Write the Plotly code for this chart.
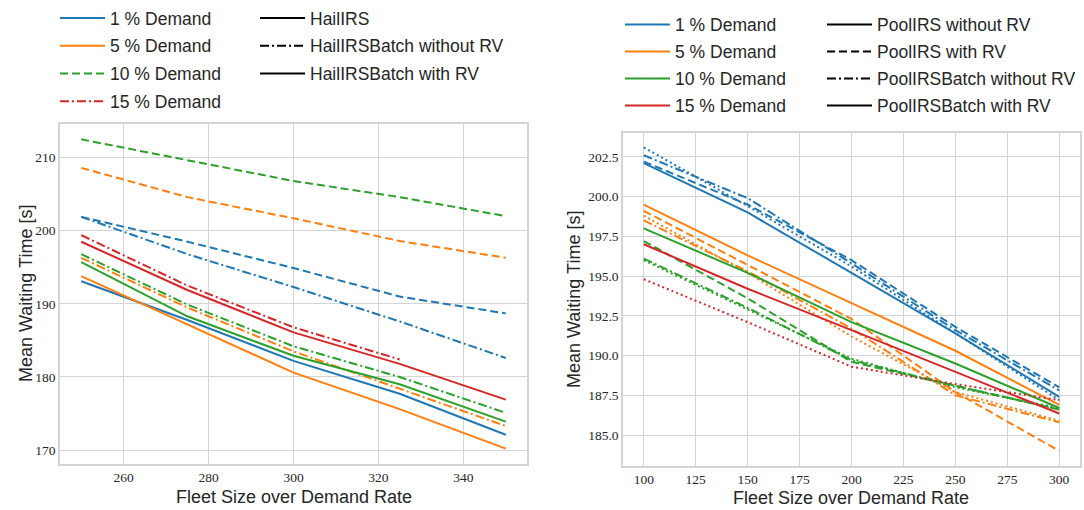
import plotly.graph_objects as go

# ---------------- data ----------------
hail_x = [250, 275, 300, 325, 350]
hail_1_dashed = [201.9, 198.5, 194.9, 191.0, 188.7]
hail_1_dashdot = [201.9, 196.8, 192.3, 187.6, 182.6]
hail_1_solid = [193.1, 187.8, 182.2, 177.7, 172.1]
hail_5_dashed = [208.6, 204.6, 201.7, 198.6, 196.3]
hail_5_dashdot = [196.3, 189.5, 183.5, 178.4, 173.3]
hail_5_solid = [193.8, 187.2, 180.6, 175.6, 170.2]
hail_10_dashed = [212.5, 209.6, 206.8, 204.6, 202.0]
hail_10_dashdot = [196.8, 189.9, 184.2, 180.0, 175.1]
hail_10_solid = [195.7, 188.3, 182.9, 179.0, 173.9]
hail_15_dashdot = [199.4, 192.5, 186.8, 182.4, None]
hail_15_solid = [198.5, 191.9, 186.1, 181.8, 176.9]

pool_x = [100, 150, 200, 250, 300]
pool_1_solid = [202.1, 199.0, 195.2, 191.4, 187.4]
pool_1_dashed = [202.2, 199.5, 196.0, 191.8, 188.0]
pool_1_dashdot = [202.6, 199.9, 195.8, 191.6, 187.8]
pool_1_dotted = [203.1, 199.4, 195.6, 191.4, 187.2]
pool_5_solid = [199.5, 196.3, 193.3, 190.3, 186.9]
pool_5_dashed = [199.1, 195.7, 192.3, 187.7, 184.0]
pool_5_dashdot = [198.5, 195.3, 191.7, 187.5, 185.8]
pool_5_dotted = [198.8, 195.2, 191.2, 187.7, 185.9]
pool_10_solid = [198.0, 195.2, 192.1, 189.5, 186.7]
pool_10_dashed = [197.2, 193.6, 189.6, 188.1, 186.6]
pool_10_dashdot = [196.1, 193.0, 189.7, 188.1, 186.6]
pool_10_dotted = [196.0, 192.9, 189.8, 188.0, 186.7]
pool_15_solid = [197.0, 194.2, 191.6, 189.0, 186.35]
pool_15_dotted = [194.8, 192.1, 189.3, 188.2, 187.2]

demand_labels = ["1 % Demand", "5 % Demand", "10 % Demand", "15 % Demand"]
hail_style_labels = ["HailIRS", "HailIRSBatch without RV", "HailIRSBatch with RV"]
pool_style_labels = ["PoolIRS without RV", "PoolIRS with RV",
                     "PoolIRSBatch without RV", "PoolIRSBatch with RV"]

# ---------------- styling ----------------
BLUE, ORANGE, GREEN, RED = "#1f77b4", "#ff7f0e", "#2ca02c", "#d62728"
DASH = {"solid": "solid", "dashed": "8px,4px",
        "dashdot": "9px,3px,2px,3px", "dotted": "2px,3px"}
LW = 2
GRID = "#d4d4d4"
TXT = "#262626"
SANS = "Liberation Sans, Arial, sans-serif"
SERIF = "Liberation Serif, Times New Roman, serif"

fig = go.Figure()


def add_line(x, y, color, dash, xa, ya):
    fig.add_trace(go.Scatter(
        x=x, y=y, mode="lines", showlegend=False, hoverinfo="skip",
        line=dict(color=color, width=LW, dash=DASH[dash]),
        xaxis=xa, yaxis=ya))


hail_series = [
    (hail_1_dashed, BLUE, "dashed"), (hail_1_dashdot, BLUE, "dashdot"),
    (hail_1_solid, BLUE, "solid"),
    (hail_5_dashed, ORANGE, "dashed"), (hail_5_dashdot, ORANGE, "dashdot"),
    (hail_5_solid, ORANGE, "solid"),
    (hail_10_dashed, GREEN, "dashed"), (hail_10_dashdot, GREEN, "dashdot"),
    (hail_10_solid, GREEN, "solid"),
    (hail_15_dashdot, RED, "dashdot"), (hail_15_solid, RED, "solid"),
]
for y, c, d in hail_series:
    add_line(hail_x, y, c, d, "x", "y")

pool_series = [
    (pool_1_solid, BLUE, "solid"), (pool_1_dashed, BLUE, "dashed"),
    (pool_1_dashdot, BLUE, "dashdot"), (pool_1_dotted, BLUE, "dotted"),
    (pool_5_solid, ORANGE, "solid"), (pool_5_dashed, ORANGE, "dashed"),
    (pool_5_dashdot, ORANGE, "dashdot"), (pool_5_dotted, ORANGE, "dotted"),
    (pool_10_solid, GREEN, "solid"), (pool_10_dashed, GREEN, "dashed"),
    (pool_10_dashdot, GREEN, "dashdot"), (pool_10_dotted, GREEN, "dotted"),
    (pool_15_solid, RED, "solid"), (pool_15_dotted, RED, "dotted"),
]
for y, c, d in pool_series:
    add_line(pool_x, y, c, d, "x2", "y2")


# legend-only entries
def add_key(name, color, dash, legend):
    fig.add_trace(go.Scatter(
        x=[None], y=[None], mode="lines", name=name, legend=legend,
        legendgroup=legend + name, showlegend=True,
        line=dict(color=color, width=LW, dash=DASH[dash]),
        xaxis="x", yaxis="y"))


for name, c, d in zip(demand_labels, [BLUE, ORANGE, GREEN, RED],
                      ["solid", "solid", "dashed", "dashdot"]):
    add_key(name, c, d, "legend")
for name, d in zip(hail_style_labels, ["solid", "dashdot", "solid"]):
    add_key(name, "black", d, "legend2")
for name, c in zip(demand_labels, [BLUE, ORANGE, GREEN, RED]):
    add_key(name, c, "solid", "legend3")
for name, d in zip(pool_style_labels, ["solid", "dashed", "dashdot", "solid"]):
    add_key(name, "black", d, "legend4")

W, H = 1084, 510


def legend_box(px, py, gap):
    return dict(x=px / W, y=1 - py / H, xanchor="left", yanchor="top",
                bgcolor="rgba(0,0,0,0)", borderwidth=0, itemwidth=45,
                font=dict(family=SANS, size=17.5, color=TXT),
                tracegroupgap=gap, itemclick=False, itemdoubleclick=False)


axis_common = dict(showgrid=True, gridcolor=GRID, gridwidth=1,
                   zeroline=False, showline=True, linecolor=GRID, linewidth=1.5,
                   mirror=True, ticks="",
                   tickfont=dict(family=SERIF, size=13.5, color=TXT))

fig.update_layout(
    width=W, height=H, margin=dict(l=0, r=0, t=0, b=0),
    paper_bgcolor="white", plot_bgcolor="white",
    xaxis=dict(domain=[60 / W, 527 / W], range=[245, 355], dtick=20,
               anchor="y", **axis_common),
    yaxis=dict(domain=[46 / H, 386 / H], range=[168.1, 214.6], dtick=10,
               anchor="x", **axis_common),
    xaxis2=dict(domain=[623 / W, 1080 / W], range=[90, 310], dtick=25,
                anchor="y2", **axis_common),
    yaxis2=dict(domain=[44 / H, 377 / H], range=[183.05, 204.0], dtick=2.5,
                tickformat=".1f", anchor="x2", **axis_common),
    legend=legend_box(55, 0, 2.0),
    legend2=legend_box(255, 0, 2.0),
    legend3=legend_box(620, 6.5, 1.3),
    legend4=legend_box(822, 6.5, 1.3),
    showlegend=True,
)

# axis titles
title_font = dict(family=SANS, size=18, color=TXT)
common_ann = dict(xref="paper", yref="paper", showarrow=False,
                  xanchor="center", yanchor="middle", font=title_font)
fig.add_annotation(text="Fleet Size over Demand Rate", x=293.5 / W, y=1 - 497 / H,
                   **common_ann)
fig.add_annotation(text="Fleet Size over Demand Rate", x=851 / W, y=1 - 498 / H,
                   **common_ann)
fig.add_annotation(text="Mean Waiting Time [s]", x=26 / W, y=1 - 294 / H,
                   textangle=-90, **common_ann)
fig.add_annotation(text="Mean Waiting Time [s]", x=574 / W, y=1 - 300 / H,
                   textangle=-90, **common_ann)

fig.write_html("out.html")
